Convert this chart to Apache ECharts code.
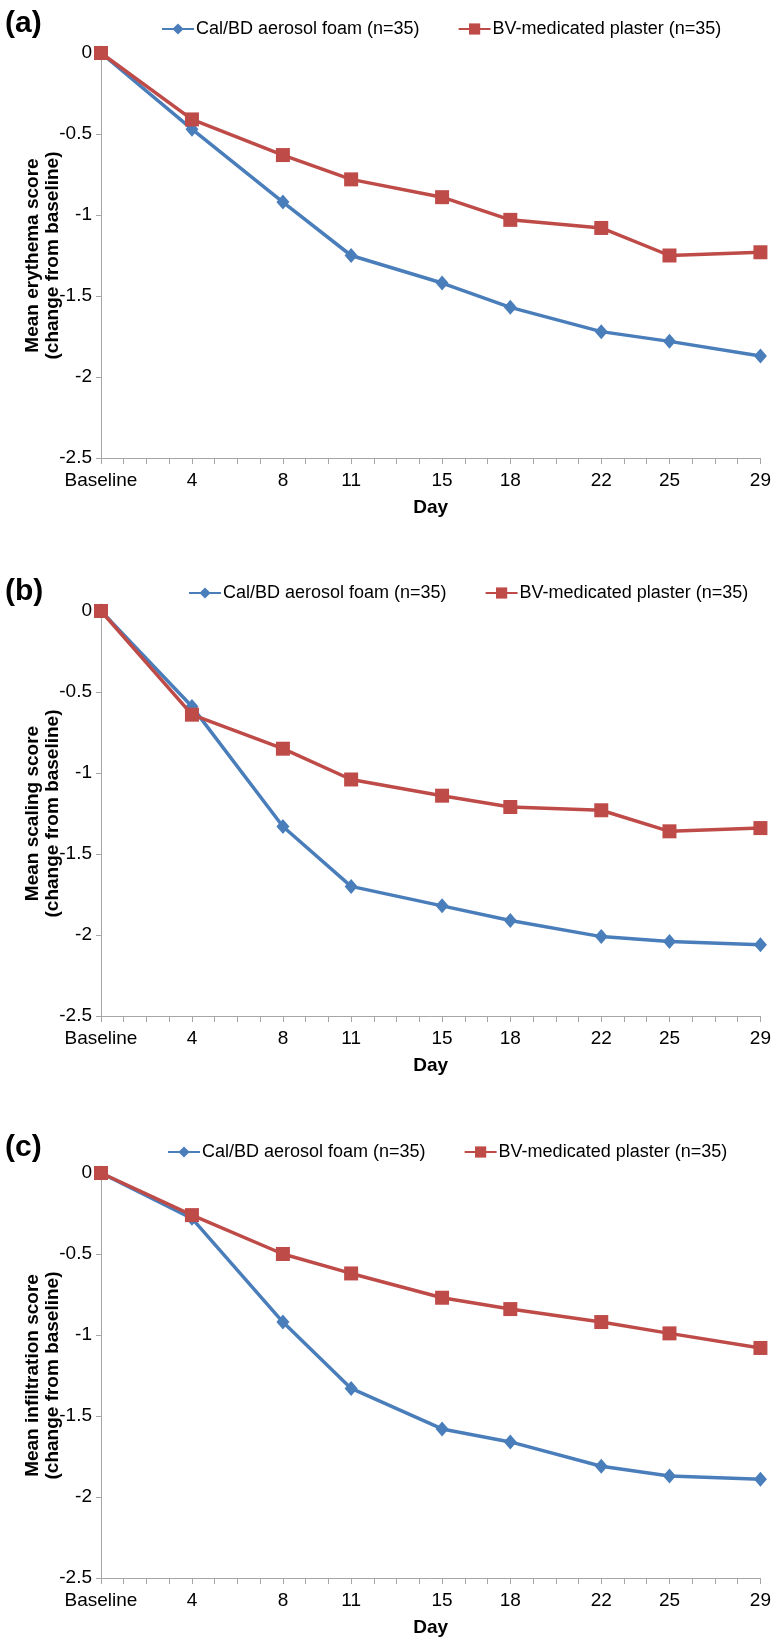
<!DOCTYPE html>
<html>
<head>
<meta charset="utf-8">
<script src="https://cdn.jsdelivr.net/npm/echarts@6/dist/echarts.min.js"></script>
<style>
  html, body { margin: 0; padding: 0; background: #fff; }
</style>
</head>
<body>
<div id="main" style="width: 774px; height: 1640px"></div>
<script>
// study days (x) and their tick labels
var days = [0, 4, 8, 11, 15, 18, 22, 25, 29];
var dayLabels = ["Baseline", "4", "8", "11", "15", "18", "22", "25", "29"];

var seriesNames = ["Cal/BD aerosol foam (n=35)", "BV-medicated plaster (n=35)"];

// (a) erythema
var erythemaFoam = [0, -0.47, -0.92, -1.25, -1.42, -1.57, -1.72, -1.78, -1.87];
var erythemaPlaster = [0, -0.41, -0.63, -0.78, -0.89, -1.03, -1.08, -1.25, -1.23];
// (b) scaling
var scalingFoam = [0, -0.59, -1.33, -1.70, -1.82, -1.91, -2.01, -2.04, -2.06];
var scalingPlaster = [0, -0.64, -0.85, -1.04, -1.14, -1.21, -1.23, -1.36, -1.34];
// (c) infiltration
var infiltrationFoam = [0, -0.28, -0.92, -1.33, -1.58, -1.66, -1.81, -1.87, -1.89];
var infiltrationPlaster = [0, -0.26, -0.50, -0.62, -0.77, -0.84, -0.92, -0.99, -1.08];

var panelLabels = ["(a)", "(b)", "(c)"];
var yTitles = [
  "Mean erythema score\n(change from baseline)",
  "Mean scaling score\n(change from baseline)",
  "Mean infiltration score\n(change from baseline)",
];

var chartDom = document.getElementById("main");
var myChart = echarts.init(chartDom);

var font = "'Liberation Sans', Arial, sans-serif";
var blue = "#4a7ebb";
var red = "#be4b48";
var axisGrey = "#a6a6a6";

// layout of the three panels
var gridTops = [53, 611, 1173];
var legendTops = [15, 579, 1138];
var legendLefts = [156, 183, 162];
var labelTops = [4, 572, 1128];

function pairs(vals) {
  return days.map(function (d, i) {
    return [d, vals[i]];
  });
}

var panelData = [
  [erythemaFoam, erythemaPlaster],
  [scalingFoam, scalingPlaster],
  [infiltrationFoam, infiltrationPlaster],
];

var grids = [], xAxes = [], yAxes = [], series = [], legends = [], titles = [];

for (var p = 0; p < 3; p++) {
  grids.push({ left: 101, right: 11, top: gridTops[p], height: 405 });
  xAxes.push({
    type: "value",
    gridIndex: p,
    min: 0,
    max: 29,
    interval: 1,
    name: "Day",
    nameLocation: "middle",
    nameGap: 40,
    nameMoveOverlap: false,
    nameTextStyle: { fontFamily: font, fontSize: 19, fontWeight: "bold", color: "#000" },
    axisLine: { onZero: false, lineStyle: { color: axisGrey, width: 1 } },
    axisTick: { show: true, length: 6, lineStyle: { color: axisGrey } },
    splitLine: { show: false },
    axisLabel: {
      margin: 13,
      fontFamily: font,
      fontSize: 19,
      color: "#000",
      formatter: function (v) {
        var i = days.indexOf(v);
        return i >= 0 ? dayLabels[i] : "";
      },
    },
  });
  yAxes.push({
    type: "value",
    gridIndex: p,
    min: -2.5,
    max: 0,
    interval: 0.5,
    name: yTitles[p],
    nameLocation: "middle",
    nameGap: 38,
    nameMoveOverlap: false,
    nameTextStyle: { fontFamily: font, fontSize: 19, fontWeight: "bold", color: "#000", lineHeight: 20 },
    axisLine: { show: true, onZero: false, lineStyle: { color: axisGrey, width: 1 } },
    axisTick: { show: true, length: 5, lineStyle: { color: axisGrey } },
    splitLine: { show: false },
    axisLabel: { margin: 9, fontFamily: font, fontSize: 19, color: "#000" },
  });
  series.push({
    name: seriesNames[0],
    type: "line",
    xAxisIndex: p,
    yAxisIndex: p,
    data: pairs(panelData[p][0]),
    symbol: "diamond",
    symbolSize: [13, 15],
    lineStyle: { color: blue, width: 3.5 },
    itemStyle: { color: blue },
    z: 3,
  });
  series.push({
    name: seriesNames[1],
    type: "line",
    xAxisIndex: p,
    yAxisIndex: p,
    data: pairs(panelData[p][1]),
    symbol: "rect",
    symbolSize: 14,
    lineStyle: { color: red, width: 3.5 },
    itemStyle: { color: red },
    z: 4,
  });
  legends.push({
    data: seriesNames,
    left: legendLefts[p],
    top: legendTops[p],
    itemWidth: 32,
    itemHeight: 14,
    itemGap: 38,
    selectedMode: false,
    textStyle: { fontFamily: font, fontSize: 18, color: "#000", padding: [0, 0, 0, -3] },
  });
  titles.push({
    text: panelLabels[p],
    left: 0,
    top: labelTops[p],
    textStyle: { fontFamily: font, fontSize: 30, fontWeight: "bold", color: "#000" },
  });
}

var option = {
  animation: false,
  backgroundColor: "#fff",
  title: titles,
  legend: legends,
  grid: grids,
  xAxis: xAxes,
  yAxis: yAxes,
  series: series,
};

option && myChart.setOption(option);
</script>
</body>
</html>
